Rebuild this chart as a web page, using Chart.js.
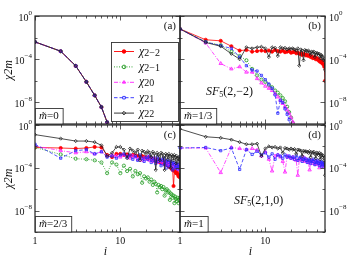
<!DOCTYPE html>
<html>
<head>
<meta charset="utf-8">
<script src="https://cdn.jsdelivr.net/npm/chart.js@4/dist/chart.umd.min.js"></script>
<style>
  body { margin: 0; background: #fff; }
  #wrap { position: relative; width: 347px; height: 257px; }
  canvas { position: absolute; left: 0; top: 0; }
</style>
</head>
<body>
<div id="wrap">
  <canvas id="pa" width="347" height="257"></canvas>
  <canvas id="pb" width="347" height="257"></canvas>
  <canvas id="pc" width="347" height="257"></canvas>
  <canvas id="pd" width="347" height="257"></canvas>
</div>
<script>
// i values
const iA = [1, 2, 3, 4, 5, 6, 7];
const iAll = [1, 2, 3, 4, 5, 6, 7, 8, 9, 10, 11, 12, 13, 14, 15, 16, 17, 18, 19, 20,
  21, 22, 23, 24, 25, 26, 27, 28, 29, 30, 31, 32, 33, 34, 35, 36, 37, 38, 39, 40,
  41, 42, 43, 44, 45, 46, 47, 48, 49, 50];

// values are read as log10(chi_2m) from the picture
// (a) m~=0 : all five curves coincide
const logA = [-2.4, -3.26, -4.62, -6.1, -7.35, -8.43, -9.83];

// (b) m~=1/3
const logB_m2 = [-1.2, -2.2, -2.3, -2.8, -3.2, -3.15, -3.3, -3.25, -3.2, -3.25,
  -3.2, -3.3, -3.15, -3.25, -3.3, -3.2, -3.35, -3.3, -3.25, -3.4,
  -3.35, -3.3, -3.45, -3.4, -3.5, -3.45, -3.6, -3.5, -3.55, -3.65,
  -3.6, -3.7, -3.65, -3.8, -3.75, -3.9, -3.85, -3.8, -4.0, -3.9,
  -4.05, -4.0, -4.2, -4.1, -4.3, -4.2, -4.4, -4.5, -4.7, -6.0];
const logB_m1 = [-1.2, -2.4, -2.7, -3.3, -3.7, -4.1, -4.9, -5.5, -5.9, -6.1,
  -6.4, -6.6, -6.9, -7.1, -7.35, -7.6, -7.9, -8.4, -8.9, -9.4, -9.9, -10.4];
const logB_0 = [-1.2, -2.5, -4.4, -4.9, -4.7, -5.2, -5.2, -5.8, -6.2, -6.5,
  -6.7, -6.9, -7.2, -7.5, -7.8, -8.1, -8.4, -8.7, -9.0, -9.4, -9.8, -10.3];
const logB_p1 = [-1.2, -2.4, -2.75, -3.0, -3.8, -4.6, -5.0, -5.1, -5.5, -5.9,
  -6.3, -6.7, -7.3, -9.0, -7.8, -8.0, -8.6, -9.1, -9.6, -10.3];
const logB_p2 = [-1.2, -2.45, -2.8, -3.5, -4.0, -2.9, -3.0, -2.9, -2.85, -3.0,
  -3.8, -2.9, -2.95, -3.7, -2.9, -3.0, -2.95, -3.1, -3.0, -3.05,
  -3.0, -3.1, -3.2, -3.0, -4.6, -3.1, -3.2, -4.1, -3.15, -3.2,
  -3.3, -3.2, -3.35, -3.6, -3.3, -3.4, -3.3, -3.8, -3.4, -3.5,
  -3.45, -3.6, -3.5, -3.9, -3.6, -3.7, -3.8, -4.1, -4.0, -5.0];

// (c) m~=2/3
const logC_m2 = [-2.1, -2.15, -2.2, -2.15, -2.05, -2.1, -2.8, -3.0, -2.7, -2.7,
  -2.8, -2.75, -2.9, -2.8, -2.85, -2.9, -2.95, -2.9, -3.0, -3.05,
  -3.1, -3.0, -3.2, -3.15, -3.3, -3.25, -3.4, -3.3, -3.5, -3.4,
  -3.5, -3.6, -3.55, -3.7, -3.6, -3.8, -3.9, -3.75, -4.0, -4.1,
  -4.2, -5.7, -4.3, -4.1, -4.5, -4.4, -4.6, -4.8, -4.7, -4.9];
const logC_m1 = [-2.1, -2.75, -3.15, -3.2, -3.3, -3.5, -4.5, -3.5, -3.7, -4.5,
  -3.8, -4.3, -4.1, -4.8, -4.3, -4.6, -4.5, -5.4, -4.8, -5.0,
  -4.9, -5.3, -5.1, -5.6, -5.3, -5.5, -6.3, -5.6, -5.8, -5.7,
  -6.0, -5.8, -6.6, -6.1, -6.0, -6.3, -6.2, -7.0, -6.4, -6.5,
  -6.8, -6.6, -7.3, -6.7, -6.9, -7.1, -6.8, -7.3, -7.0, -6.8];
const logC_0 = [-1.95, -2.4, -2.6, -2.5, -2.7, -2.5, -2.9, -2.8, -2.9, -3.0,
  -2.8, -2.9, -3.1, -2.9, -3.0, -3.2, -3.0, -3.3, -3.1, -3.2,
  -3.0, -3.3, -3.2, -3.4, -3.1, -3.3, -3.5, -3.2, -3.4, -3.3,
  -3.6, -3.3, -3.5, -3.4, -3.7, -3.5, -3.6, -3.8, -3.5, -3.7,
  -3.9, -3.6, -3.8, -4.0, -3.7, -3.9, -4.1, -3.8, -4.2, -3.6];
const logC_p1 = [-1.8, -3.1, -2.4, -2.3, -2.7, -2.5, -3.0, -2.9, -3.1, -2.8,
  -2.7, -3.0, -2.8, -3.2, -2.9, -3.3, -2.8, -3.1, -3.4, -3.0,
  -3.2, -2.9, -3.5, -3.1, -3.3, -3.6, -3.0, -3.4, -3.2, -3.8,
  -3.3, -3.1, -3.7, -3.4, -4.0, -3.3, -3.5, -3.9, -3.4, -3.6,
  -4.2, -3.5, -3.7, -4.0, -3.6, -3.8, -4.1, -3.7, -3.9, -2.1];
const logC_p2 = [-0.9, -1.27, -1.5, -1.5, -1.6, -1.9, -2.9, -2.6, -2.05, -2.05,
  -2.3, -3.1, -2.2, -2.4, -2.6, -2.3, -3.3, -2.4, -2.5, -2.7,
  -2.45, -2.6, -3.0, -2.5, -2.7, -4.2, -2.6, -2.8, -3.3, -2.6,
  -2.7, -3.0, -4.2, -2.7, -2.8, -3.2, -2.7, -2.9, -4.0, -2.8,
  -2.9, -3.3, -2.8, -3.0, -3.6, -2.9, -3.1, -3.4, -3.0, -3.2];

// (d) m~=1
const logD_0 = [-2.15, -2.15, -4.45, -2.1, -2.2, -2.3, -2.2, -2.35, -2.9, -2.5,
  -3.2, -4.3, -2.9, -2.8, -3.0, -3.4, -4.4, -2.9, -3.0, -3.1,
  -3.0, -3.2, -3.3, -4.7, -3.2, -3.2, -3.3, -3.0, -3.4, -3.2,
  -3.3, -3.5, -4.2, -3.4, -3.3, -3.6, -3.4, -3.5, -3.7, -3.4,
  -3.5, -3.6, -4.0, -3.5, -3.7, -3.6, -3.8, -3.7, -3.9, -3.6];
const logD_p1 = [-2.15, -2.1, -2.4, -2.15, -4.15, -2.3, -2.75, -2.45, -2.8, -2.6,
  -3.0, -2.7, -3.2, -2.8, -2.9, -3.1, -2.8, -3.0, -2.9, -3.1,
  -3.0, -3.2, -2.9, -3.3, -3.1, -3.0, -3.4, -3.2, -3.1, -3.3,
  -3.5, -3.2, -3.3, -3.6, -3.3, -3.4, -3.2, -3.7, -3.4, -3.5,
  -3.3, -3.6, -3.8, -3.4, -3.5, -3.9, -3.6, -3.5, -3.7, -3.8];
const logD_p2 = [-0.37, -1.1, -1.2, -1.37, -1.6, -1.8, -1.8, -1.75, -2.9, -2.2,
  -2.0, -2.1, -2.05, -2.2, -2.1, -2.6, -2.15, -2.2, -2.3, -2.2,
  -2.3, -2.25, -2.7, -2.3, -2.35, -2.4, -2.9, -2.4, -2.5, -2.45,
  -2.5, -2.6, -2.45, -3.0, -2.55, -2.6, -2.5, -2.7, -3.1, -2.6,
  -2.65, -2.8, -2.6, -3.2, -2.7, -2.8, -3.0, -2.9, -3.3, -4.7];

// axes
const xTickValues = [1, 10];
const xTickLabels = ['1', '10'];
const xMinorTicks = [1, 2, 3, 4, 5, 6, 7, 8, 9, 10, 20, 30, 40, 50];
const yTickValues = [1, 1e-4, 1e-8];
const yTickExps = ['0', '-4', '-8'];
const yMinorTicks = [1, 1e-2, 1e-4, 1e-6, 1e-8, 1e-10];

const SERIF = '"Liberation Serif", "DejaVu Serif", serif';

// series styles (gnuplot-like, last one on top)
const seriesStyle = [
  { name: '2−2', color: '#ff0000', point: 'circle', fill: '#ff0000', dash: [], order: 4 },
  { name: '2−1', color: '#1f9a1f', point: 'circle', fill: 'rgba(255,255,255,0)', dash: [1, 1.5], order: 3 },
  { name: '20', color: '#ff22ff', point: 'triangle', fill: 'rgba(255,34,255,0.25)', dash: [4, 1.5, 1, 1.5], order: 2 },
  { name: '21', color: '#2a2aff', point: 'rect', fill: 'rgba(255,255,255,0)', dash: [3.5, 2], order: 1 },
  { name: '22', color: '#222222', point: 'rectRot', fill: 'rgba(255,255,255,0)', dash: [], order: 0 }
];

function makeSet(k, xs, logs) {
  const s = seriesStyle[k];
  return {
    label: 'χ' + s.name,
    data: logs.map((v, j) => ({ x: xs[j], y: Math.pow(10, v) })),
    borderColor: s.color,
    backgroundColor: s.fill,
    borderWidth: 0.8,
    borderDash: s.dash,
    pointStyle: s.point,
    pointRadius: s.point === 'triangle' ? 2 : 1.6,
    pointBorderWidth: 0.8,
    pointBackgroundColor: s.fill,
    pointBorderColor: s.color,
    order: s.order,
    tension: 0
  };
}

function drawParts(ctx, x, y, parts, align) {
  let w = 0;
  parts.forEach(p => { ctx.font = p.font; p.w = ctx.measureText(p.t).width; w += p.w; });
  let cx = align === 'right' ? x - w : (align === 'center' ? x - w / 2 : x);
  parts.forEach(p => {
    ctx.font = p.font;
    ctx.textAlign = 'left';
    ctx.fillText(p.t, cx, y + (p.dy || 0));
    cx += p.w;
  });
  return w;
}

const decor = {
  id: 'decor',
  afterDraw(chart) {
    const d = chart.options.plugins.decor;
    const ctx = chart.ctx, a = chart.chartArea;
    const xs = chart.scales.x, ys = chart.scales.y;
    ctx.save();
    // inward ticks on all four sides
    ctx.strokeStyle = '#333';
    ctx.lineWidth = 0.8;
    ctx.beginPath();
    xMinorTicks.forEach(v => {
      const px = Math.round(xs.getPixelForValue(v)) + 0.5;
      const len = xTickValues.includes(v) ? 4.5 : 2.5;
      ctx.moveTo(px, a.bottom); ctx.lineTo(px, a.bottom - len);
      ctx.moveTo(px, a.top); ctx.lineTo(px, a.top + len);
    });
    yMinorTicks.forEach(v => {
      const py = Math.round(ys.getPixelForValue(v)) + 0.5;
      const len = yTickValues.includes(v) ? 4.5 : 2.5;
      ctx.moveTo(a.left, py); ctx.lineTo(a.left + len, py);
      ctx.moveTo(a.right, py); ctx.lineTo(a.right - len, py);
    });
    ctx.stroke();
    // frame
    ctx.lineWidth = 1.2;
    ctx.strokeStyle = '#222';
    ctx.strokeRect(a.left, a.top, a.right - a.left, a.bottom - a.top);

    ctx.fillStyle = '#111';
    ctx.textBaseline = 'middle';
    // y tick labels 10^n
    yTickValues.forEach((v, k) => {
      const py = ys.getPixelForValue(v);
      const parts = [
        { t: '10', font: '10px ' + SERIF, dy: 2 },
        { t: yTickExps[k].replace('-', '−'), font: '7px ' + SERIF, dy: -3 }
      ];
      if (d.yRight) drawParts(ctx, a.right + 4, py, parts, 'left');
      else drawParts(ctx, a.left - 3, py, parts, 'right');
    });

    // x tick labels and title (bottom row only)
    if (d.showX) {
      ctx.font = '10px ' + SERIF;
      ctx.textAlign = 'center';
      xTickValues.forEach((v, k) => {
        ctx.fillText(xTickLabels[k], xs.getPixelForValue(v), a.bottom + 9);
      });
      ctx.font = 'italic 12px ' + SERIF;
      ctx.fillText('i', (a.left + a.right) / 2 - 2, a.bottom + 19.5);
    }

    // panel tag
    ctx.font = '11px ' + SERIF;
    ctx.textAlign = 'right';
    ctx.fillText(d.tag, a.right - 4, a.top + 10);

    // m~ box
    const mParts = [
      { t: 'm\u0303', font: 'italic 11px ' + SERIF },
      { t: '=' + d.m, font: '11px ' + SERIF }
    ];
    let mw = 0;
    mParts.forEach(p => { ctx.font = p.font; mw += ctx.measureText(p.t).width; });
    const bw = mw + 8, bh = 16;
    ctx.fillStyle = '#fff';
    ctx.fillRect(a.left, a.bottom - bh, bw, bh);
    ctx.lineWidth = 0.9;
    ctx.strokeStyle = '#333';
    ctx.strokeRect(a.left + 0.5, a.bottom - bh + 0.5, bw, bh - 0.5);
    ctx.fillStyle = '#111';
    drawParts(ctx, a.left + 4, a.bottom - bh / 2 + 0.5, mParts, 'left');

    // SF label
    if (d.sf) {
      drawParts(ctx, a.left + d.sf.dx, a.top + d.sf.dy, [
        { t: 'SF', font: 'italic 12px ' + SERIF },
        { t: '5', font: '8px ' + SERIF, dy: 3 },
        { t: d.sf.args, font: '12px ' + SERIF }
      ], 'left');
    }

    // legend box (panel a)
    if (d.legend) {
      const lx = a.left + 76, ly = a.top + 26, lw = a.right - 2 - lx, lh = a.bottom - 3 - ly;
      ctx.fillStyle = '#fff';
      ctx.fillRect(lx, ly, lw, lh);
      ctx.lineWidth = 0.9;
      ctx.strokeStyle = '#333';
      ctx.strokeRect(lx + 0.5, ly + 0.5, lw, lh);
      seriesStyle.forEach((s, k) => {
        const yy = ly + 9.5 + k * 15.4;
        ctx.strokeStyle = s.color;
        ctx.lineWidth = 0.9;
        ctx.setLineDash(s.dash);
        ctx.beginPath();
        ctx.moveTo(lx + 3, yy); ctx.lineTo(lx + 23, yy);
        ctx.stroke();
        ctx.setLineDash([]);
        ctx.fillStyle = s.point === 'circle' && k === 0 ? s.color : s.fill;
        Chart.helpers.drawPoint(ctx, { pointStyle: s.point, radius: 1.8, borderWidth: 0.8, rotation: 0 }, lx + 13, yy);
        ctx.fillStyle = '#111';
        drawParts(ctx, lx + 28, yy, [
          { t: 'χ', font: 'italic 12px ' + SERIF },
          { t: s.name, font: '10px ' + SERIF, dy: 1.5 }
        ], 'left');
      });
    }
    ctx.restore();
  }
};

function makePanel(id, cfg) {
  new Chart(document.getElementById(id), {
    type: 'line',
    data: { datasets: cfg.sets },
    options: {
      responsive: false,
      animation: false,
      events: [],
      layout: { padding: cfg.pad },
      plugins: {
        legend: { display: false },
        tooltip: { enabled: false },
        decor: Object.assign({ showX: cfg.showX }, cfg.decor)
      },
      scales: {
        x: {
          type: 'logarithmic', min: 1, max: 50,
          grid: { display: false }, border: { display: false },
          afterBuildTicks: s => { s.ticks = xTickValues.map(v => ({ value: v })); },
          afterFit: s => { s.height = cfg.showX ? 25 : 0; },
          ticks: { display: false },
          title: { display: false }
        },
        y: {
          type: 'logarithmic', min: 1e-10, max: 1,
          position: cfg.decor.yRight ? 'right' : 'left',
          grid: { display: false }, border: { display: false },
          afterBuildTicks: s => { s.ticks = yTickValues.map(v => ({ value: v })); },
          afterFit: s => { s.width = cfg.decor.yRight ? 22 : 35; },
          ticks: { display: false },
          title: {
            display: !cfg.decor.yRight, text: 'χ2m', color: '#111', padding: { top: 2, bottom: 0 },
            font: { family: SERIF, size: 12, style: 'italic' }
          }
        }
      }
    },
    plugins: [decor]
  });
}

makePanel('pa', {
  pad: { left: 0, right: 167, top: 16, bottom: 133 }, showX: false,
  sets: [0, 1, 2, 3, 4].map(k => makeSet(k, iA, logA)),
  decor: { tag: '(a)', m: '0', yRight: false, legend: true }
});
makePanel('pb', {
  pad: { left: 180, right: 0, top: 16, bottom: 133 }, showX: false,
  sets: [makeSet(0, iAll, logB_m2), makeSet(1, iAll, logB_m1), makeSet(2, iAll, logB_0),
         makeSet(3, iAll, logB_p1), makeSet(4, iAll, logB_p2)],
  decor: { tag: '(b)', m: '1/3', yRight: true, sf: { dx: 26, dy: 76, args: '(2,−2)' } }
});
makePanel('pc', {
  pad: { left: 0, right: 167, top: 125, bottom: 0 }, showX: true,
  sets: [makeSet(0, iAll, logC_m2), makeSet(1, iAll, logC_m1), makeSet(2, iAll, logC_0),
         makeSet(3, iAll, logC_p1), makeSet(4, iAll, logC_p2)],
  decor: { tag: '(c)', m: '2/3', yRight: false }
});
makePanel('pd', {
  pad: { left: 180, right: 0, top: 125, bottom: 0 }, showX: true,
  sets: [makeSet(2, iAll, logD_0), makeSet(3, iAll, logD_p1), makeSet(4, iAll, logD_p2)],
  decor: { tag: '(d)', m: '1', yRight: true, sf: { dx: 54, dy: 76, args: '(2,1,0)' } }
});
</script>
</body>
</html>
